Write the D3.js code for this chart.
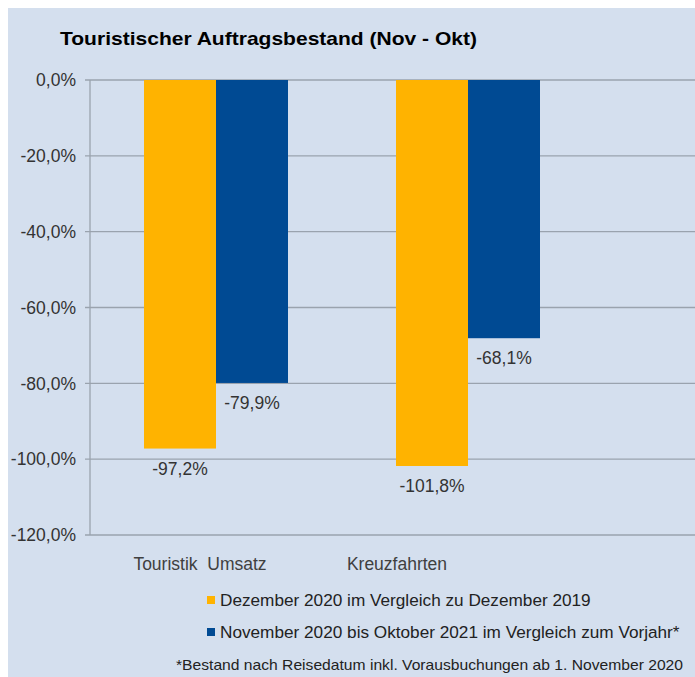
<!DOCTYPE html>
<html>
<head>
<meta charset="utf-8">
<script src="https://cdn.jsdelivr.net/npm/d3@7"></script>
<style>
  html, body { margin: 0; padding: 0; background: #ffffff; }
  svg { display: block; font-family: "Liberation Sans", Arial, sans-serif; }
</style>
</head>
<body>
<div id="chart"></div>
<script>
// data
const categories = ["Touristik  Umsatz", "Kreuzfahrten"];
const seriesNames = [
  "Dezember 2020 im Vergleich zu Dezember 2019",
  "November 2020 bis Oktober 2021 im Vergleich zum Vorjahr*"
];
const dezemberValues = [-97.2, -101.8];
const novOktValues = [-79.9, -68.1];
const yTicks = [0, -20, -40, -60, -80, -100, -120];
const chartTitle = "Touristischer Auftragsbestand (Nov - Okt)";
const footnote = "*Bestand nach Reisedatum inkl. Vorausbuchungen ab 1. November 2020";

const width = 695, height = 677;
const colors = ["#ffb300", "#004a93"];
const labelShift = [-16, -71]; // category labels sit left of the bar pairs

const svg = d3.select("#chart").append("svg")
  .attr("width", width)
  .attr("height", height);

// panel background (thin white edge top/left)
svg.append("rect")
  .attr("x", 8).attr("y", 8)
  .attr("width", width - 8).attr("height", height - 8)
  .attr("fill", "#d4dfee");

// scales
const x0 = d3.scaleBand()
  .domain(categories)
  .range([90, 594])
  .paddingInner(0)
  .paddingOuter(0);
const x1 = d3.scaleBand()
  .domain([0, 1])
  .range([0, x0.bandwidth()])
  .paddingInner(0)
  .paddingOuter(0.75);
const y = d3.scaleLinear()
  .domain([-120, 0])
  .range([535, 80]);

// title
svg.append("text")
  .attr("x", 60).attr("y", 45)
  .attr("font-size", 19)
  .attr("font-weight", "bold")
  .attr("fill", "#000")
  .attr("textLength", 417)
  .attr("lengthAdjust", "spacingAndGlyphs")
  .text(chartTitle);

// gridlines
svg.append("g").selectAll("line")
  .data(yTicks)
  .enter().append("line")
   .attr("x1", 85).attr("x2", width)
   .attr("y1", d => y(d)).attr("y2", d => y(d))
   .attr("stroke", "#9aa3ae")
   .attr("stroke-width", 1.3);

// y axis line
svg.append("line")
  .attr("x1", 90).attr("x2", 90)
  .attr("y1", y(0)).attr("y2", y(-120))
  .attr("stroke", "#9aa3ae")
  .attr("stroke-width", 1.3);

// y tick labels
svg.append("g").selectAll("text")
  .data(yTicks)
  .enter().append("text")
   .attr("x", 76)
   .attr("y", d => y(d))
   .attr("dy", "0.36em")
   .attr("text-anchor", "end")
   .attr("font-size", 17.5)
   .attr("fill", "#333")
   .text(d => d3.format(".1f")(d).replace("−", "-").replace(".", ",") + "%");

// bars
const table = categories.map((c, i) => ({
  cat: c, vals: [dezemberValues[i], novOktValues[i]]
}));

const groups = svg.append("g").selectAll("g")
  .data(table)
  .enter().append("g")
   .attr("transform", d => "translate(" + x0(d.cat) + ",0)");

groups.selectAll("rect")
  .data(d => d.vals.map((v, k) => ({ k: k, v: v })))
  .enter().append("rect")
   .attr("x", d => x1(d.k))
   .attr("y", y(0))
   .attr("width", x1.bandwidth())
   .attr("height", d => y(d.v) - y(0))
   .attr("fill", d => colors[d.k]);

groups.selectAll("text.val")
  .data(d => d.vals.map((v, k) => ({ k: k, v: v })))
  .enter().append("text")
   .attr("class", "val")
   .attr("x", d => x1(d.k) + x1.bandwidth() / 2)
   .attr("y", d => y(d.v) + 26)
   .attr("text-anchor", "middle")
   .attr("font-size", 17.5)
   .attr("fill", "#333")
   .text(d => d3.format(".1f")(d.v).replace("−", "-").replace(".", ",") + "%");

// category labels
svg.append("g").selectAll("text")
  .data(categories)
  .enter().append("text")
   .attr("x", (d, i) => x0(d) + x0.bandwidth() / 2 + labelShift[i])
   .attr("y", 570)
   .attr("text-anchor", "middle")
   .attr("font-size", 17.5)
   .attr("fill", "#404040")
   .style("white-space", "pre")
   .text(d => d);

// legend
const legend = svg.append("g").selectAll("g")
  .data(seriesNames)
  .enter().append("g")
   .attr("transform", (d, i) => "translate(207," + (600 + i * 32) + ")");
legend.append("rect")
  .attr("x", 0).attr("y", -4)
  .attr("width", 8).attr("height", 8)
  .attr("fill", (d, i) => colors[i]);
legend.append("text")
  .attr("x", 13).attr("y", 0)
  .attr("dy", "0.36em")
  .attr("font-size", 17.2)
  .attr("fill", "#222")
  .text(d => d);

// footnote
svg.append("text")
  .attr("x", 176).attr("y", 670)
  .attr("font-size", 14.5)
  .attr("fill", "#222")
  .attr("textLength", 507)
  .attr("lengthAdjust", "spacingAndGlyphs")
  .text(footnote);
</script>
</body>
</html>
